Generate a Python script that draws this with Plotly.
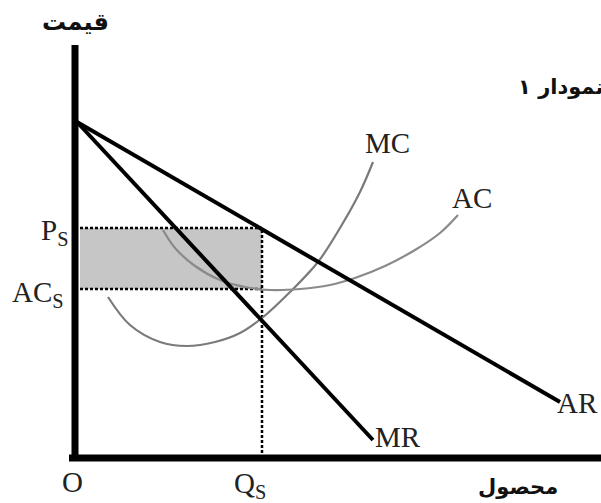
import plotly.graph_objects as go

# ---- data (schematic units: quantity on x, price on y) ----
intercept = 336
ar_x = [2, 485]
ar_y = [intercept, 56]
mr_x = [2, 298]
mr_y = [intercept, 18]

mc_x = [33, 55, 85, 112, 140, 165, 187, 215, 243, 265, 285, 298]
mc_y = [161, 133, 116, 112, 116, 125, 140, 166, 196, 230, 266, 296]

ac_x = [88, 100, 120, 145, 170, 195, 225, 255, 280, 310, 340, 365, 383]
ac_y = [228, 210, 192, 178, 171, 168, 169, 173, 180, 192, 208, 225, 243]

q_s = 187
p_s = 230
ac_s = 169
rect_x0 = 5

y_axis_top = 413
x_axis_right = 530

labels = ["MC", "AC", "AR", "MR"]
label_x = [312, 397, 502, 323]
label_y = [315, 260, 55, 21]

title_text = "نمودار ۱"
y_title = "قیمت"
x_title = "محصول"

fig = go.Figure()

# profit rectangle
fig.add_trace(go.Scatter(
    x=[rect_x0, q_s, q_s, rect_x0, rect_x0],
    y=[ac_s, ac_s, p_s, p_s, ac_s],
    mode="lines", fill="toself", fillcolor="#c6c6c6",
    line=dict(width=0), hoverinfo="skip"))

# dashed guide lines
dash = "3px,2px"
fig.add_trace(go.Scatter(x=[rect_x0, q_s], y=[p_s, p_s], mode="lines",
                         line=dict(color="black", width=2.5, dash=dash)))
fig.add_trace(go.Scatter(x=[rect_x0, q_s], y=[ac_s, ac_s], mode="lines",
                         line=dict(color="black", width=2.5, dash=dash)))
fig.add_trace(go.Scatter(x=[q_s, q_s], y=[0, p_s], mode="lines",
                         line=dict(color="black", width=2.5, dash=dash)))

# cost curves
fig.add_trace(go.Scatter(x=mc_x, y=mc_y, mode="lines",
                         line=dict(color="#7a7a7a", width=2.2, shape="spline", smoothing=1.0)))
fig.add_trace(go.Scatter(x=ac_x, y=ac_y, mode="lines",
                         line=dict(color="#8a8a8a", width=2.2, shape="spline", smoothing=1.0)))

# revenue lines
fig.add_trace(go.Scatter(x=ar_x, y=ar_y, mode="lines", line=dict(color="black", width=4)))
fig.add_trace(go.Scatter(x=mr_x, y=mr_y, mode="lines", line=dict(color="black", width=4)))

# axes
fig.add_trace(go.Scatter(x=[0, 0], y=[-3, y_axis_top], mode="lines", line=dict(color="black", width=7)))
fig.add_trace(go.Scatter(x=[-6, x_axis_right], y=[0, 0], mode="lines", line=dict(color="black", width=7)))

serif = dict(family="Liberation Serif", size=29, color="#222")
ann = []
for t, x, y in zip(labels, label_x, label_y):
    ann.append(dict(x=x, y=y, text=t, showarrow=False, font=serif, xanchor="center", yanchor="middle"))

ann.append(dict(x=-5, y=226, text="P<sub>S</sub>", showarrow=False, font=serif, xanchor="right", yanchor="middle"))
ann.append(dict(x=-9, y=164, text="AC<sub>S</sub>", showarrow=False, font=serif, xanchor="right", yanchor="middle"))
ann.append(dict(x=-3, y=-24, text="O", showarrow=False, font=serif, xanchor="center", yanchor="middle"))
ann.append(dict(x=q_s - 12, y=-27, text="Q<sub>S</sub>", showarrow=False, font=serif, xanchor="center", yanchor="middle"))

arabic = dict(family="DejaVu Sans", size=24, color="#111", weight="bold")
arabic_small = dict(family="DejaVu Sans", size=21, color="#111", weight="bold")
ann.append(dict(xref="paper", yref="paper", x=75/601, y=1-22/503, text=y_title, showarrow=False,
                font=arabic, xanchor="center", yanchor="middle"))
ann.append(dict(xref="paper", yref="paper", x=518/601, y=1-487/503, text=x_title, showarrow=False,
                font=arabic_small, xanchor="center", yanchor="middle"))
ann.append(dict(xref="paper", yref="paper", x=516/601, y=1-87/503, text=title_text, showarrow=False,
                font=arabic_small, xanchor="left", yanchor="middle"))

fig.update_layout(
    width=601, height=503,
    margin=dict(l=0, r=0, t=0, b=0),
    paper_bgcolor="white", plot_bgcolor="white",
    showlegend=False,
    xaxis=dict(visible=False, range=[-75, 526], fixedrange=True),
    yaxis=dict(visible=False, range=[-45, 458], fixedrange=True),
    annotations=ann,
)

fig.write_html("out.html", config={"displayModeBar": False},
               post_script="document.body.style.margin='0';document.body.style.overflow='hidden';")
